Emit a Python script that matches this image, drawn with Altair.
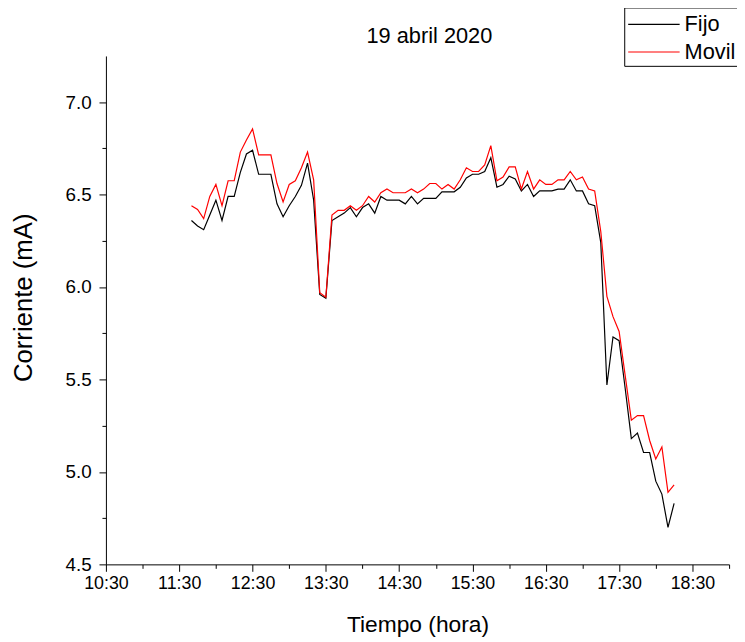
import altair as alt
import pandas as pd

fijo = [6.36, 6.33, 6.31, 6.39, 6.47, 6.36, 6.49, 6.49, 6.62, 6.72,
        6.74, 6.61, 6.61, 6.61, 6.45, 6.38, 6.44, 6.49, 6.55, 6.67,
        6.47, 5.96, 5.94, 6.36, 6.38, 6.40, 6.43, 6.38, 6.43, 6.45,
        6.40, 6.49, 6.47, 6.47, 6.47, 6.45, 6.49, 6.45, 6.48, 6.48,
        6.48, 6.515, 6.515, 6.515, 6.54, 6.59, 6.61, 6.61, 6.625, 6.70,
        6.54, 6.555, 6.60, 6.585, 6.52, 6.555, 6.49, 6.52, 6.52, 6.52,
        6.53, 6.53, 6.58, 6.52, 6.52, 6.45, 6.44, 6.24, 5.47, 5.73,
        5.71, 5.45, 5.18, 5.21, 5.105, 5.105, 4.95, 4.88, 4.70, 4.83]

movil = [6.44, 6.42, 6.37, 6.49, 6.555, 6.44, 6.575, 6.575, 6.73, 6.795,
         6.855, 6.715, 6.715, 6.715, 6.56, 6.46, 6.555, 6.575, 6.645, 6.73,
         6.58, 5.97, 5.945, 6.39, 6.415, 6.415, 6.44, 6.415, 6.44, 6.49,
         6.46, 6.51, 6.53, 6.51, 6.51, 6.51, 6.53, 6.51, 6.53, 6.56,
         6.56, 6.53, 6.555, 6.53, 6.58, 6.645, 6.625, 6.625, 6.66, 6.765,
         6.575, 6.595, 6.65, 6.65, 6.53, 6.625, 6.53, 6.58, 6.555, 6.555,
         6.58, 6.58, 6.625, 6.58, 6.595, 6.53, 6.52, 6.30, 5.95, 5.84,
         5.76, 5.52, 5.28, 5.305, 5.305, 5.17, 5.07, 5.135, 4.89, 4.93]

series = ["Fijo", "Movil"]
colors = ["#000000", "#ff0000"]

times = pd.date_range("2020-04-19 11:40", periods=len(fijo), freq="5min")

df = pd.DataFrame({
    "Tiempo": list(times) + list(times),
    "Corriente": fijo + movil,
    "Serie": [series[0]] * len(fijo) + [series[1]] * len(movil),
})

FONT = "Liberation Sans"

x_ticks = []
for h in range(10, 20):
    for m in (0, 30):
        if (h == 10 and m == 0):
            continue
        if h == 19 and m == 30:
            continue
        x_ticks.append(alt.DateTime(year=2020, month=4, date=19, hours=h, minutes=m))

y_ticks = [4.5, 4.75, 5.0, 5.25, 5.5, 5.75, 6.0, 6.25, 6.5, 6.75, 7.0]

x_axis = alt.Axis(
    values=x_ticks,
    labelExpr="minutes(datum.value) == 30 ? timeFormat(datum.value, '%H:%M') : ''",
    title="Tiempo (hora)",
    grid=False,
    domainColor="black",
    tickColor="black",
    tickSize={"condition": {"test": "minutes(datum.value) == 30", "value": 7}, "value": 4},
    labelFont=FONT, labelFontSize=18, labelColor="black", labelPadding=3,
    labelFlush=False,
    titleFont=FONT, titleFontSize=23, titleFontWeight="normal", titleColor="black",
    titlePadding=22,
)

y_axis = alt.Axis(
    values=y_ticks,
    labelExpr="abs(datum.value*2 - round(datum.value*2)) < 0.001 ? format(datum.value, '.1f') : ''",
    title="Corriente (mA)",
    grid=False,
    domainColor="black",
    tickColor="black",
    tickSize={"condition": {"test": "abs(datum.value*2 - round(datum.value*2)) < 0.001", "value": 7}, "value": 4},
    labelFont=FONT, labelFontSize=19, labelColor="black", labelPadding=8,
    labelFlush=False,
    titleFont=FONT, titleFontSize=26, titleFontWeight="normal", titleColor="black",
    titleBaseline="middle", titleX=-83, titleY=244,
)

chart = alt.Chart(df).mark_line(strokeWidth=1.2).encode(
    x=alt.X("Tiempo:T", axis=x_axis,
            scale=alt.Scale(domain=[alt.DateTime(year=2020, month=4, date=19, hours=10, minutes=30),
                                    alt.DateTime(year=2020, month=4, date=19, hours=19, minutes=0)])),
    y=alt.Y("Corriente:Q", axis=y_axis, scale=alt.Scale(domain=[4.5, 7.25], nice=False, zero=False)),
    color=alt.Color("Serie:N", scale=alt.Scale(domain=series, range=colors),
                    legend=alt.Legend(
                        title=None, orient="none", legendX=524, legendY=-49,
                        direction="vertical",
                        symbolType="M-2,0L2,0", symbolSize=676, symbolStrokeWidth=1.2,
                        symbolOffset=13,
                        labelFont=FONT, labelFontSize=22, labelColor="black", labelOffset=17,
                        fillColor="white", strokeColor="black", padding=3,
                        rowPadding=3,
                    )),
).properties(
    width=630,
    height=514,
    title=alt.Title("19 abril 2020", font=FONT, fontSize=22, fontWeight="normal",
                    color="black", anchor="middle", dx=12, offset=-41),
    autosize="none",
    padding={"left": 99, "top": 45, "right": 8, "bottom": 75},
).configure_view(stroke=None)

chart.save("out.html", embed_options={"renderer": "svg", "actions": False})
